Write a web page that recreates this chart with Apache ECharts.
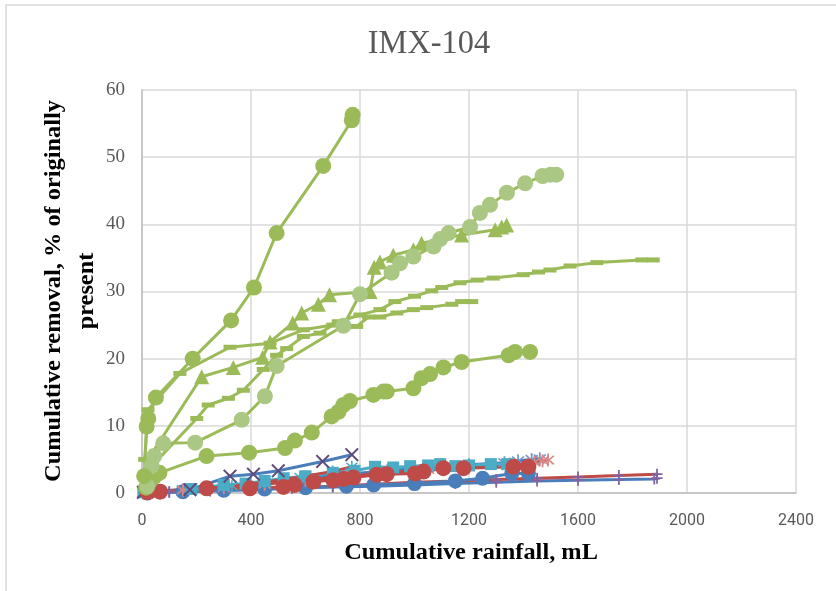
<!DOCTYPE html>
<html><head><meta charset="utf-8">
<script src="https://cdn.jsdelivr.net/npm/echarts@6/dist/echarts.min.js"></script>
<style>html,body{margin:0;padding:0;background:#fff}#c{width:836px;height:591px}</style>
</head><body><div id="c"></div>
<script>
// ---- tick labels ----
const xTicks = [0, 400, 800, 1200, 1600, 2000, 2400];
const yTicks = [0, 10, 20, 30, 40, 50, 60];

// ---- green series ----
const gCircleSteep = [[8,2.5],[17,9.9],[23,11.1],[51,14.2],[186,20.0],[327,25.7],[411,30.6],[494,38.7],[665,48.7],[770,55.5],[773,56.3]];
const gTriangle = [[15,2.2],[30,5.5],[219,17.3],[335,18.7],[443,20.2],[470,22.5],[553,25.3],[586,26.8],[647,28.1],[688,29.5],[837,30.0],[852,33.6],[873,34.4],[922,35.4],[996,36.2],[1026,37.2],[1173,38.4],[1296,39.2],[1320,39.6],[1338,39.9]];
const gDashLong = [[12,3.0],[201,11.1],[243,13.1],[317,14.1],[372,15.3],[445,18.4],[494,20.5],[531,21.5],[592,23.3],[653,23.8],[720,25.5],[800,26.5],[873,27.3],[928,28.5],[1000,29.3],[1063,30.1],[1100,30.6],[1167,31.3],[1230,31.7],[1289,32.0],[1399,32.5],[1455,32.9],[1497,33.2],[1571,33.8],[1669,34.3],[1834,34.7],[1876,34.7]];
const gDashShort = [[10,5.0],[22,12.4],[139,17.8],[323,21.7],[470,22.3],[592,24.3],[700,25.0],[788,24.8],[831,26.2],[873,26.2],[935,26.8],[996,27.3],[1045,27.6],[1137,28.1],[1173,28.5],[1210,28.5]];
const gCircleLight = [[20,1.0],[35,4.0],[45,5.5],[78,7.4],[195,7.5],[366,10.9],[451,14.4],[494,18.9],[739,24.9],[800,29.6],[916,32.8],[947,34.2],[996,35.2],[1070,36.7],[1094,37.8],[1125,38.7],[1204,39.6],[1240,41.7],[1277,42.9],[1339,44.7],[1406,46.1],[1470,47.2],[1500,47.4],[1520,47.4]];
const gCircleLow = [[15,0.8],[30,1.8],[45,2.4],[64,3.0],[237,5.5],[393,6.0],[525,6.7],[561,7.8],[623,9.0],[696,11.4],[721,12.1],[739,13.1],[763,13.7],[849,14.6],[886,15.1],[898,15.1],[996,15.6],[1026,17.1],[1057,17.7],[1106,18.7],[1173,19.5],[1345,20.5],[1369,21.0],[1424,21.0]];

// ---- low cluster series ----
const bBlueX = [[5,0.1],[60,0.2],[176,0.5],[323,2.5],[409,2.8],[500,3.3],[663,4.7],[770,5.7]];
const bRedStar = [[5,0.1],[70,0.3],[200,0.6],[330,1.0],[450,1.6],[580,2.4],[700,3.2],[770,3.9]];
const bTealSq = [[5,0.1],[60,0.3],[180,0.6],[300,1.2],[380,1.4],[450,1.8],[520,2.2],[600,2.5],[700,3.0],[780,3.3],[855,3.9],[922,3.8],[984,4.0],[1050,4.1],[1094,4.3],[1150,4.0],[1200,4.1],[1280,4.3],[1340,4.3]];
const bRedCircle = [[20,0.1],[66,0.2],[237,0.7],[396,0.7],[519,0.9],[560,1.2],[629,1.7],[702,1.9],[740,2.1],[776,2.3],[861,2.7],[898,2.8],[1002,2.9],[1033,3.2],[1106,3.7],[1180,3.7],[1363,3.9],[1418,3.9]];
const bBlueCircle = [[20,0.0],[150,0.2],[300,0.4],[450,0.6],[600,0.8],[750,1.0],[850,1.2],[1000,1.4],[1150,1.8],[1250,2.2],[1357,2.9],[1418,2.9]];
const bBlueAst = [[5,0.0],[150,0.5],[300,1.0],[450,1.5],[600,2.2],[750,2.8],[900,3.3],[1050,3.8],[1200,4.2],[1330,4.5],[1380,4.8],[1430,5.0],[1460,5.1]];
const bRedAst = [[5,0.0],[150,0.4],[300,0.8],[450,1.3],[600,1.9],[750,2.5],[900,3.0],[1050,3.5],[1200,3.9],[1350,4.3],[1440,4.6],[1470,4.8],[1490,4.9]];
const bRedPlus = [[5,0.0],[100,0.2],[250,0.4],[400,0.6],[550,0.8],[700,1.0],[850,1.3],[1000,1.6],[1150,1.8],[1300,2.0],[1450,2.2],[1600,2.4],[1750,2.6],[1890,2.8]];
const bBluePlus = [[5,0.0],[100,0.1],[250,0.3],[400,0.5],[550,0.7],[700,0.9],[850,1.0],[1000,1.2],[1150,1.4],[1300,1.6],[1450,1.8],[1600,1.9],[1750,2.0],[1880,2.1],[1890,2.2]];

const X_PATH = 'path://M0,1L1,0L5,4L9,0L10,1L6,5L10,9L9,10L5,6L1,10L0,9L4,5Z';
const PLUS_PATH = 'path://M4.2,0H5.8V4.2H10V5.8H5.8V10H4.2V5.8H0V4.2H4.2Z';
const AST_PATH = 'path://M4.4,0H5.6V4.2L8.6,1.3L9.4,2.1L6.3,5L9.4,7.9L8.6,8.7L5.6,5.8V10H4.4V5.8L1.4,8.7L0.6,7.9L3.7,5L0.6,2.1L1.4,1.3L4.4,4.2Z';

function s(data, lineColor, symbol, size, markColor, opacity) {
  return {
    type: 'line', data: data, symbol: symbol, symbolSize: size,
    showAllSymbol: true, animation: false,
    lineStyle: { color: lineColor, width: 3 },
    itemStyle: { color: markColor || lineColor, opacity: opacity == null ? 1 : opacity, borderWidth: 0 },
    z: 2
  };
}
const G = '#9BBB59', GL = '#AAC784', BLUE = '#4A7EBB', RED = '#BE4B48', TEAL = '#4BACC6', PURP = '#5F4A7A';

const chart = echarts.init(document.getElementById('c'), null, { renderer: 'canvas' });
chart.setOption({
  animation: false,
  grid: { left: 142, right: 40, top: 90, bottom: 98 },
  xAxis: {
    type: 'value', min: 0, max: 2400, interval: 400,
    axisLine: { show: true, lineStyle: { color: '#BFBFBF', width: 1.5 } },
    axisTick: { show: false },
    splitLine: { show: true, lineStyle: { color: '#D9D9D9', width: 1.5 } },
    axisLabel: { color: '#595959', fontFamily: 'Roboto', fontSize: 16, margin: 20,
      formatter: v => xTicks.indexOf(v) >= 0 ? String(v) : '' }
  },
  yAxis: {
    type: 'value', min: 0, max: 60, interval: 10,
    axisLine: { show: true, lineStyle: { color: '#BFBFBF', width: 1.5 } },
    axisTick: { show: false },
    splitLine: { show: true, lineStyle: { color: '#D9D9D9', width: 1.5 } },
    axisLabel: { color: '#595959', fontFamily: 'Liberation Serif', fontSize: 19, margin: 17,
      formatter: v => yTicks.indexOf(v) >= 0 ? String(v) : '' }
  },
  graphic: [
    { type: 'rect', shape: { x: 6, y: 5, width: 840, height: 600 }, style: { fill: 'none', stroke: '#D9D9D9', lineWidth: 1.5 }, z: -1, silent: true },
    { type: 'text', x: 429, y: 44, scaleX: 1.08, scaleY: 1.1, style: { text: 'IMX-104', font: '30px "Liberation Serif"', fill: '#595959', textAlign: 'center', textVerticalAlign: 'middle' } },
    { type: 'text', x: 471, y: 553, scaleX: 1.16, scaleY: 1.1, style: { text: 'Cumulative rainfall, mL', font: 'bold 21px "Liberation Serif"', fill: '#000', textAlign: 'center', textVerticalAlign: 'middle' } },
    { type: 'text', x: 71, y: 291, rotation: Math.PI / 2, scaleX: 1.16, scaleY: 1.05, style: { text: 'Cumulative removal, % of originally\npresent', font: 'bold 21px "Liberation Serif"', fill: '#000', textAlign: 'center', textVerticalAlign: 'middle', lineHeight: 31 } }
  ],
  series: [
    s(bBluePlus, BLUE, PLUS_PATH, 11, '#8064A2'),
    s(bRedPlus, RED, PLUS_PATH, 11, '#8064A2'),
    s(bBlueCircle, BLUE, 'circle', 15, BLUE),
    s(bBlueAst, BLUE, AST_PATH, 13, '#6F95CC'),
    s(bRedAst, RED, AST_PATH, 13, '#D98684'),
    s(bTealSq, TEAL, 'rect', 12, TEAL),
    s(bRedStar, RED, AST_PATH, 12, TEAL),
    s(bBlueX, BLUE, X_PATH, 14, PURP),
    s(bRedCircle, RED, 'circle', 16, RED),
    s(gCircleLow, G, 'circle', 16, G),
    s(gDashShort, G, 'rect', [13, 5], G),
    s(gDashLong, G, 'rect', [13, 5], G),
    s(gTriangle, G, 'triangle', 15, G),
    s(gCircleLight, G, 'circle', 16, GL),
    s(gCircleSteep, G, 'circle', 16, G)
  ]
});
</script></body></html>
